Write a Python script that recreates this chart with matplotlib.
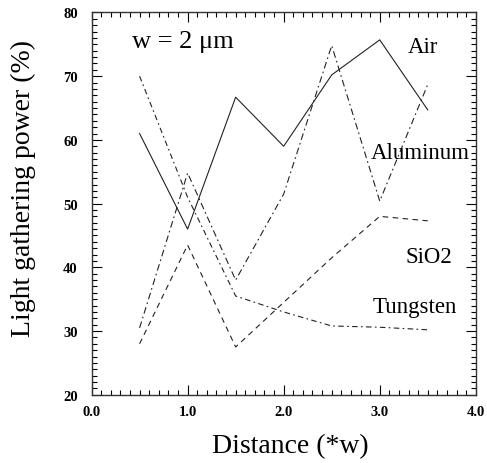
"""Light gathering power vs distance for w = 2 um."""
import matplotlib

matplotlib.use("Agg")
from matplotlib import pyplot as plt
from matplotlib.ticker import MultipleLocator

distance = [0.5, 1.0, 1.5, 2.0, 2.5, 3.0, 3.5]
air = [61, 46, 66.7, 59, 70.2, 75.7, 64.7]
aluminum = [30.5, 54.8, 38, 51.5, 74.8, 50.4, 68.7]
sio2 = [28, 43.5, 27.5, 34.5, 41.5, 48, 47.3]
tungsten = [70, 51, 35.5, 33, 30.8, 30.6, 30.2]

SERIF = "Liberation Serif"

fig = plt.figure(figsize=(4.87, 4.64), dpi=100)
ax = fig.add_axes([0.188, 0.147, 0.789, 0.824])

lw = 0.8
ax.plot(distance, air, color="#222222", lw=lw, linestyle="-")
ax.plot(distance, aluminum, color="#222222", lw=lw, linestyle=(0, (6, 3, 1.5, 3)))
ax.plot(distance, sio2, color="#222222", lw=lw, linestyle=(0, (5, 4)))
ax.plot(distance, tungsten, color="#222222", lw=lw, linestyle=(0, (5, 3, 1.5, 3)))

ax.set_xlim(0, 4)
ax.set_ylim(20, 80)
ax.xaxis.set_major_locator(MultipleLocator(1))
ax.xaxis.set_minor_locator(MultipleLocator(0.1))
ax.yaxis.set_major_locator(MultipleLocator(10))
ax.yaxis.set_minor_locator(MultipleLocator(1))
ax.xaxis.set_major_formatter(lambda v, p: f"{v:.1f}")
ax.tick_params(which="both", direction="in", top=True, right=True, width=0.8)
ax.tick_params(which="major", length=7)
ax.tick_params(which="minor", length=3.5)
ax.tick_params(axis="x", which="major", pad=7)
ax.tick_params(axis="y", which="major", pad=10)
for lab in ax.get_xticklabels() + ax.get_yticklabels():
    lab.set_fontfamily(SERIF)
    lab.set_fontweight("bold")
    lab.set_fontsize(10.5)
for s in ax.spines.values():
    s.set_linewidth(1)
    s.set_color("#333333")

ax.set_xlabel("Distance (*w)", fontfamily=SERIF, fontsize=20)
ax.set_ylabel("Light gathering power (%)", fontfamily=SERIF, fontsize=20)
ax.xaxis.set_label_coords(0.516, -0.1)
ax.yaxis.set_label_coords(-0.145, 0.543)

txt = dict(fontfamily=SERIF, fontsize=16.5, ha="center", va="center")
ax.text(0.42, 75.5, "w = 2 μm", fontfamily=SERIF, fontsize=19, ha="left", va="center")
ax.text(3.45, 74.6, "Air", **txt)
ax.text(3.42, 58, "Aluminum", **txt)
ax.text(3.51, 41.7, "SiO2", **txt)
ax.text(3.36, 33.9, "Tungsten", **txt)

fig.savefig("out.png", dpi=100)
